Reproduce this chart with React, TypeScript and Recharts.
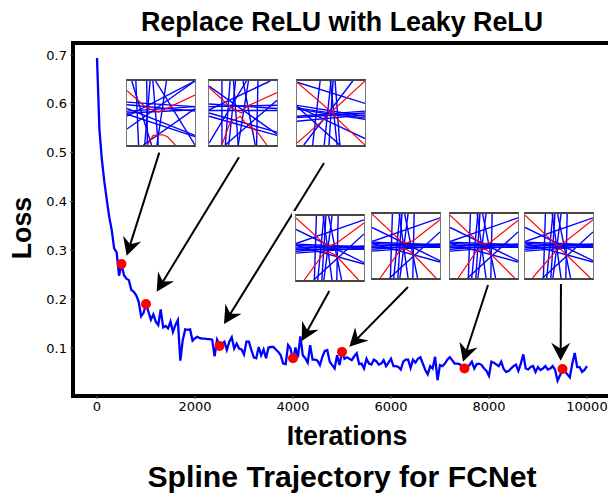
import { Line, LineChart, ReferenceArea, ReferenceLine, XAxis, YAxis } from "recharts";

// loss sampled every 50 iterations
const lossValues = [
  0.694, 0.546, 0.485, 0.44, 0.403, 0.368, 0.342, 0.304, 0.296, 0.248, 0.272, 0.249, 0.242, 0.239, 0.219, 0.215, 0.208,
  0.195, 0.165, 0.172, 0.19, 0.174, 0.158, 0.169, 0.154, 0.147, 0.179, 0.142, 0.145, 0.14, 0.154, 0.133, 0.147, 0.157,
  0.074, 0.116, 0.138, 0.137, 0.138, 0.115, 0.12, 0.123, 0.12, 0.119, 0.119, 0.118, 0.118, 0.117, 0.083, 0.117, 0.106,
  0.109, 0.113, 0.096, 0.113, 0.122, 0.099, 0.109, 0.099, 0.097, 0.087, 0.113, 0.113, 0.096, 0.081, 0.079, 0.102, 0.085,
  0.097, 0.079, 0.101, 0.102, 0.102, 0.097, 0.092, 0.085, 0.068, 0.067, 0.106, 0.099, 0.074, 0.101, 0.081, 0.124, 0.085,
  0.079, 0.07, 0.106, 0.076, 0.076, 0.074, 0.065, 0.082, 0.094, 0.096, 0.072, 0.065, 0.058, 0.085, 0.065, 0.092, 0.078,
  0.081, 0.078, 0.075, 0.083, 0.089, 0.067, 0.068, 0.058, 0.078, 0.068, 0.066, 0.076, 0.073, 0.066, 0.068, 0.075, 0.063,
  0.07, 0.078, 0.063, 0.063, 0.061, 0.056, 0.072, 0.076, 0.076, 0.059, 0.076, 0.07, 0.078, 0.081, 0.068, 0.055, 0.046,
  0.063, 0.058, 0.082, 0.034, 0.065, 0.063, 0.068, 0.076, 0.081, 0.075, 0.068, 0.068, 0.067, 0.061, 0.059, 0.061, 0.065,
  0.072, 0.058, 0.067, 0.068, 0.065, 0.058, 0.053, 0.043, 0.072, 0.07, 0.066, 0.063, 0.072, 0.057, 0.051, 0.053, 0.058,
  0.063, 0.066, 0.053, 0.068, 0.087, 0.058, 0.056, 0.061, 0.063, 0.051, 0.061, 0.055, 0.058, 0.063, 0.056, 0.058, 0.063,
  0.055, 0.033, 0.044, 0.055, 0.052, 0.046, 0.04, 0.068, 0.09, 0.061, 0.061, 0.051, 0.055, 0.063,
];
const lossData = lossValues.map((loss, i) => ({ iter: i * 50, loss }));

const markerIters = [500, 1000, 2500, 4000, 5000, 7500, 9500];
const markerLoss = [0.272, 0.19, 0.104, 0.079, 0.092, 0.058, 0.057];
const markerData = markerIters.map((iter, i) => ({ iter, loss: markerLoss[i] }));

const xTicks = [0, 2000, 4000, 6000, 8000, 10000];
const yTicks = [0.1, 0.2, 0.3, 0.4, 0.5, 0.6, 0.7];

// tail iter, tail loss, tip iter, tip loss
const arrows = [
  [1271, 0.5, 606, 0.289],
  [2898, 0.4905, 1218, 0.2153],
  [4633, 0.4788, 2592, 0.1491],
  [4741, 0.2167, 4178, 0.1143],
  [6347, 0.2249, 5149, 0.1026],
  [7980, 0.229, 7469, 0.0719],
  [9469, 0.231, 9463, 0.0739],
];

// inset lines in unit coords, y going down: [x1, y1, x2, y2]
const blueA = [
  [1, 0, 0, 0.75], [1, 0, 0, 0.55], [0, 0.33, 1, 0.4], [0, 0.37, 1, 0.47], [0, 0.47, 1, 0.4], [0, 0.5, 1, 0.45],
  [0, 0.43, 1, 0.85], [0, 0.52, 1, 0.87], [0.42, 0, 1, 1], [1, 0.43, 0.24, 1], [0.13, 0, 0.17, 1], [0.34, 0, 0.26, 1],
  [0.38, 0, 0.46, 1], [0.29, 0, 0.3, 1], [0.58, 0, 0.44, 1], [0.07, 0, 0.36, 1],
];
const blueB = [
  [0.9, 0, 0, 0.45], [0, 0.08, 1, 0.83], [0, 0.36, 1, 0.43], [0, 0.4, 1, 0.38], [0, 0.46, 1, 0.46], [0, 0.5, 1, 0.8],
  [0, 0.55, 1, 0.85], [1, 0.3, 0.24, 1], [0.55, 0, 0, 0.97], [0.19, 0, 0.19, 1], [0.31, 0, 0.24, 1], [0.36, 0, 0.43, 1],
  [0.39, 0, 0.29, 1], [0.5, 0, 0.68, 1], [0.72, 0, 0.7, 1], [0.58, 0, 0.43, 1],
];
const blueC = [
  [0, 0.38, 1, 0.55], [0, 0.42, 1, 0.58], [0, 0.44, 1, 0.6], [0, 0.55, 1, 0.47], [0, 0.57, 1, 0.5], [0, 0.63, 1, 0.53],
  [0, 0.02, 1, 0.35], [0, 0.4, 1, 0.9], [0, 0.4, 0.63, 1], [0.82, 0, 0.1, 1], [0.34, 0, 0.23, 1], [0.5, 0, 0.4, 1],
  [0.53, 0, 0.47, 1], [0.56, 0, 0.63, 1], [0.49, 0, 0.59, 1],
];
const blueLate = [
  [0, 0.43, 1, 0.06], [0, 0.21, 1, 0.73], [0, 0.46, 1, 0.75], [1, 0.28, 0.26, 1], [0, 0.44, 1, 0.48], [0, 0.46, 1, 0.5],
  [0, 0.5, 1, 0.47], [0, 0.55, 1, 0.47], [0, 0.58, 1, 0.5], [0, 0.52, 1, 0.52], [0.3, 0, 0.27, 1], [0.41, 0, 0.32, 1],
  [0.44, 0, 0.38, 1], [0.4, 0, 0.53, 1], [0.48, 0, 0.67, 1], [0.62, 0, 0.6, 1], [0.53, 0, 0.41, 1],
];

const redA = [
  [[0, 0.15], [0.29, 0.42], [0.47, 0.485], [1, 0.22]],
  [[0.3, 1], [0.385, 0.85], [0.53, 0.84], [0.6, 0.875], [0.71, 1]],
];
const redB = [
  [[0, 0.1], [0.33, 0.42], [0.48, 0.5], [0.55, 0.4], [1, 0.18]],
  [[0.19, 1], [0.31, 0.65], [0.46, 0.55], [0.53, 0.65], [0.7, 0.78], [0.85, 1]],
];
const redC = [
  [[0, 0.02], [0.47, 0.45], [0.48, 0.5], [0.45, 0.55], [0, 0.97]],
  [[1, 0], [0.54, 0.45], [0.53, 0.5], [0.58, 0.58], [1, 1]],
];
const redD = [
  [[0, 0.03], [0.43, 0.45], [0.5, 0.47], [0.6, 0.42], [1, 0.11]],
  [[0.12, 1], [0.41, 0.58], [0.48, 0.56], [0.58, 0.61], [0.92, 1]],
];
const redE = [
  [[0, 0], [0.43, 0.43], [0.5, 0.455], [0.6, 0.42], [1, 0.09]],
  [[0.12, 1], [0.41, 0.57], [0.47, 0.53], [0.58, 0.6], [0.94, 1]],
];
const redF = [
  [[0, 0.02], [0.44, 0.46], [0.515, 0.475], [0.59, 0.445], [1, 0.1]],
  [[0.12, 1], [0.39, 0.58], [0.47, 0.545], [0.54, 0.56], [0.95, 1]],
];
const redG = [
  [[0, 0.02], [0.47, 0.49], [0.52, 0.49], [1, 0.09]],
  [[0.11, 1], [0.47, 0.56], [0.52, 0.545], [0.96, 1]],
];

const insets = [
  { left: 126, top: 79, blue: blueA, red: redA },
  { left: 208, top: 79, blue: blueB, red: redB },
  { left: 296, top: 79, blue: blueC, red: redC },
  { left: 295, top: 214, blue: blueLate, red: redD },
  { left: 371, top: 212, blue: blueLate, red: redE },
  { left: 449, top: 212, blue: blueLate, red: redF },
  { left: 524, top: 212, blue: blueLate, red: redG },
];

const xMin = -490;
const xMax = 10776;
const yMin = 0.0017;
const yMax = 0.7246;

const arial = "'Liberation Sans', Arial, sans-serif";

function Arrow({ x1, y1, x2, y2 }: any) {
  const len = Math.hypot(x2 - x1, y2 - y1);
  const ux = (x2 - x1) / len;
  const uy = (y2 - y1) / len;
  const at = (back: number, side: number) => `${x2 - ux * back - uy * side},${y2 - uy * back + ux * side}`;
  return (
    <g>
      <line x1={x1} y1={y1} x2={x2 - ux * 10} y2={y2 - uy * 10} stroke="#000" strokeWidth={2} />
      <polygon points={`${at(0, 0)} ${at(18, 9.5)} ${at(12, 0)} ${at(18, -9.5)}`} fill="#000" />
    </g>
  );
}

function Inset({ left, top, blue, red }: any) {
  return (
    <div style={{ position: "absolute", left: left - 3, top: top - 3, padding: 3, background: "#fff" }}>
      <div
        style={{
          width: 70,
          height: 68,
          boxSizing: "border-box",
          borderTop: "2px solid #444",
          borderBottom: "2px solid #444",
          borderLeft: "1px solid #777",
          borderRight: "1px solid #777",
        }}
      >
        <LineChart width={68} height={64} margin={{ top: 0, right: 0, bottom: 0, left: 0 }}>
          <XAxis type="number" dataKey="x" domain={[0, 1]} hide />
          <YAxis type="number" dataKey="y" domain={[0, 1]} reversed hide />
          {blue.map((s: number[], i: number) => (
            <Line
              key={i}
              data={[{ x: s[0], y: s[1] }, { x: s[2], y: s[3] }]}
              dataKey="y"
              stroke="#0000ff"
              strokeWidth={1.4}
              dot={false}
              isAnimationActive={false}
            />
          ))}
          {red.map((pts: number[][], i: number) => (
            <Line
              key={"r" + i}
              data={pts.map((p) => ({ x: p[0], y: p[1] }))}
              dataKey="y"
              stroke="#ff0000"
              strokeWidth={1.2}
              dot={false}
              isAnimationActive={false}
            />
          ))}
        </LineChart>
      </div>
    </div>
  );
}

export default function App() {
  const tick = { fill: "#000", fontSize: 13, fontFamily: "'DejaVu Sans'" };
  const heading = { position: "absolute", fontFamily: arial, fontWeight: 700, color: "#000", whiteSpace: "nowrap" } as const;
  return (
    <div style={{ position: "absolute", left: 0, top: 0, width: 608, height: 494, overflow: "hidden", background: "#fff" }}>
      <LineChart width={640} height={494} margin={{ top: 43, right: 15, bottom: 0, left: 0 }}>
        <XAxis
          type="number"
          dataKey="iter"
          domain={[xMin, xMax]}
          ticks={xTicks}
          height={98}
          allowDataOverflow
          axisLine={false}
          tickSize={3}
          tickMargin={3}
          tick={tick}
          tickLine={{ stroke: "#555" }}
          interval={0}
        />
        <YAxis
          type="number"
          dataKey="loss"
          domain={[yMin, yMax]}
          ticks={yTicks}
          width={73}
          allowDataOverflow
          axisLine={false}
          tickSize={3}
          tickMargin={3}
          tick={tick}
          tickLine={{ stroke: "#555" }}
          tickFormatter={(v: number) => v.toFixed(1)}
          interval={0}
        />
        <ReferenceArea x1={xMin} x2={xMax} y1={yMin} y2={yMax} fill="none" stroke="#000" strokeWidth={4} />
        <Line
          data={markerData}
          dataKey="loss"
          stroke="none"
          dot={{ r: 5, fill: "#ff0000", stroke: "#ff0000", strokeWidth: 0 }}
          isAnimationActive={false}
        />
        <Line data={lossData} dataKey="loss" stroke="#0000ff" strokeWidth={2.3} dot={false} isAnimationActive={false} />
        {arrows.map((a, i) => (
          <ReferenceLine
            key={i}
            segment={[{ x: a[0], y: a[1] }, { x: a[2], y: a[3] }]}
            shape={(p: any) => <Arrow {...p} />}
          />
        ))}
      </LineChart>
      {insets.map((inset, i) => (
        <Inset key={i} {...inset} />
      ))}
      <div style={{ ...heading, left: 342, top: 22, fontSize: 26.8, transform: "translate(-50%,-50%)" }}>
        Replace ReLU with Leaky ReLU
      </div>
      <div style={{ ...heading, left: 347, top: 436, fontSize: 26.8, transform: "translate(-50%,-50%)" }}>Iterations</div>
      <div style={{ ...heading, left: 342, top: 477, fontSize: 30.2, transform: "translate(-50%,-50%)" }}>
        Spline Trajectory for FCNet
      </div>
      <div style={{ ...heading, left: 22, top: 228, fontSize: 26.8, transform: "translate(-50%,-50%) rotate(-90deg)" }}>Loss</div>
    </div>
  );
}
